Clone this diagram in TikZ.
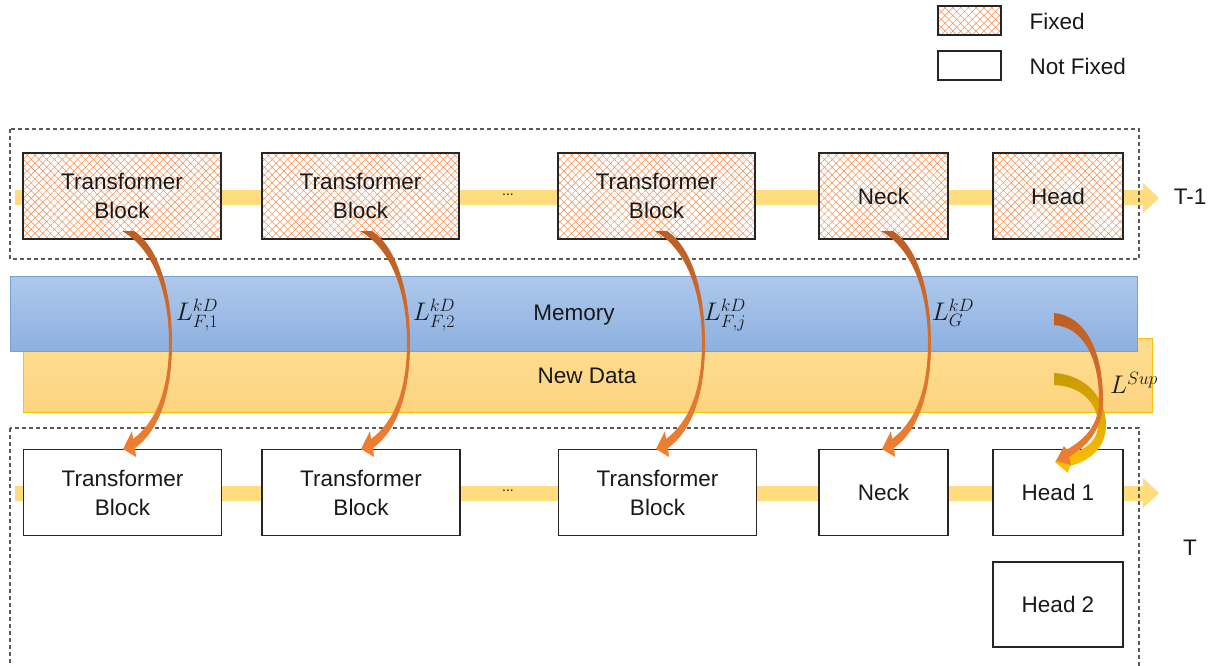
\RequirePackage{fix-cm}
\documentclass[tikz,border=0pt]{standalone}
\usepackage{fontspec}
\setmainfont{Liberation Sans}
\usetikzlibrary{patterns.meta}
\definecolor{hatch}{RGB}{242,140,78}
\definecolor{flow}{RGB}{255,220,125}
\definecolor{memtop}{RGB}{174,200,235}
\definecolor{membot}{RGB}{141,176,224}
\definecolor{memline}{RGB}{118,160,215}
\definecolor{ndtop}{RGB}{254,221,145}
\definecolor{ndbot}{RGB}{253,212,128}
\definecolor{ndline}{RGB}{255,192,0}
\definecolor{dashc}{RGB}{90,90,90}
\definecolor{kdtop}{RGB}{188,94,38}
\definecolor{kdbot}{RGB}{240,128,50}
\definecolor{gdtop}{RGB}{200,155,0}
\definecolor{gdbot}{RGB}{255,192,0}
\definecolor{txt}{RGB}{25,25,25}
\newcommand{\kdarrow}[1]{%
\shade[top color=kdtop, bottom color=kdbot]
 (#1,231) -- (#1+12,231)
 .. controls (#1+38,248) and (#1+50,295) .. (#1+50,343)
 .. controls (#1+50,392) and (#1+38,430) .. (#1+13,448)
 -- (#1+14,457) -- (#1+1,449) -- (#1+10,431) -- (#1+11,439)
 .. controls (#1+34,422) and (#1+47,390) .. (#1+47,343)
 .. controls (#1+47,295) and (#1+33,250) .. (#1,231) -- cycle;}
\begin{document}
\begin{tikzpicture}[x=1pt,y=-1pt,
  every node/.style={font=\fontsize{22.5}{29}\selectfont, text=txt},
  boxbase/.style={draw=black!85, line width=1.1pt, inner sep=0pt, align=center},
  fixedbox/.style={boxbase,
     preaction={fill=white},
     preaction={pattern={Lines[angle=45,distance=5.5pt,line width=0.5pt]}, pattern color=hatch},
     pattern={Lines[angle=-45,distance=5.5pt,line width=0.5pt]}, pattern color=hatch},
  freebox/.style={boxbase, fill=white},
  tb/.style={minimum width=198pt, minimum height=86pt},
  sm/.style={minimum width=130pt, minimum height=86pt},
  dashbox/.style={draw=dashc, line width=1.1pt, dash pattern=on 4pt off 3pt},
  band/.style={inner sep=0pt, line width=1pt},
  mathlbl/.style={font=\fontsize{25.5}{30}\selectfont}
]
\useasboundingbox (0,0) rectangle (1212,665);
\clip (0,0) rectangle (1212,665);

% legend
\node[fixedbox, minimum width=63pt, minimum height=29pt] (lfix) at (969.5,20.5) {};
\node[anchor=west] (lfixt) at (1026,21) {Fixed};
\node[freebox, minimum width=63pt, minimum height=29pt] (lfree) at (969.5,65.5) {};
\node[anchor=west] (lfreet) at (1026,66) {Not Fixed};

% flow arrows
\coordinate (fa1s) at (15,197.5);
\coordinate (fa2s) at (15,493);
\fill[flow] (15,190) -- (1143,190) -- (1143,183) -- (1159,198) -- (1143,213) -- (1143,205) -- (15,205) -- cycle;
\fill[flow] (15,486) -- (1143,486) -- (1143,478) -- (1159,493) -- (1143,508) -- (1143,501) -- (15,501) -- cycle;

% top row (T-1)
\node[fixedbox, tb] (t1) at (122,196) {Transformer\\Block};
\node[fixedbox, tb, minimum width=197pt] (t2) at (360.5,196) {Transformer\\Block};
\node[fixedbox, tb, minimum width=197pt] (t3) at (656.5,196) {Transformer\\Block};
\node[fixedbox, sm, minimum width=129pt] (tn) at (883.5,196) {Neck};
\node[fixedbox, sm] (th) at (1058,196) {Head};
\node[font=\fontsize{14}{16}\selectfont] (tdots) at (508,195) {...};
\node (tlab) at (1190,197) {T-1};
\draw[dashbox] (10,129) rectangle (1139,259);

% bottom row (T)
\node[freebox, tb] (b1) at (122.5,492.5) {Transformer\\Block};
\node[freebox, tb] (b2) at (361,492.5) {Transformer\\Block};
\node[freebox, tb] (b3) at (657.5,492.5) {Transformer\\Block};
\node[freebox, sm, minimum width=129pt] (bn) at (883.5,492.5) {Neck};
\node[freebox, sm] (bh1) at (1058,492.5) {Head 1};
\node[freebox, sm, minimum height=85pt] (bh2) at (1058,604.5) {Head 2};
\node[font=\fontsize{14}{16}\selectfont] (bdots) at (508,491) {...};
\node (blab) at (1190,548) {T};
\draw[dashbox] (10,428) rectangle (1139,700);

% data bands
\node[band, draw=ndline, top color=ndtop, bottom color=ndbot,
      minimum width=1129pt, minimum height=74pt] (nd) at (587.5,375) {};
\node (ndt) at (587,376) {New Data};
\node[band, draw=memline, top color=memtop, bottom color=membot,
      minimum width=1127pt, minimum height=75pt] (mem) at (573.5,313.5) {};
\node (memt) at (574,315) {Memory};

% distillation arrows
\kdarrow{122}
\kdarrow{360}
\kdarrow{655}
\kdarrow{881}
\node[mathlbl] (l1) at (197,315) {$L^{kD}_{F,1}$};
\node[mathlbl] (l2) at (434,315) {$L^{kD}_{F,2}$};
\node[mathlbl] (l3) at (725,315) {$L^{kD}_{F,j}$};
\node[mathlbl] (l4) at (953,313) {$L^{kD}_{G}$};

% supervision arrows into Head 1
\shade[top color=gdtop, bottom color=gdbot]
 (1054,373) .. controls (1086,375) and (1106,398) .. (1106,425)
 .. controls (1106,446) and (1092,460) .. (1070,466)
 -- (1068,473) -- (1055,462) -- (1066,447) -- (1068,455)
 .. controls (1087,449) and (1098,440) .. (1098,425)
 .. controls (1098,404) and (1082,386) .. (1054,385) -- cycle;
\shade[top color=kdtop, bottom color=kdbot]
 (1054,313) .. controls (1086,316) and (1103,352) .. (1103,400)
 .. controls (1103,426) and (1091,444) .. (1069,457)
 -- (1071,465) -- (1056,461) -- (1064,446) -- (1066,450)
 .. controls (1086,439) and (1099,424) .. (1099,400)
 .. controls (1099,356) and (1082,327) .. (1054,325) -- cycle;
\node[mathlbl] (lsup) at (1134,383) {$L^{Sup}$};
\end{tikzpicture}
\end{document}
